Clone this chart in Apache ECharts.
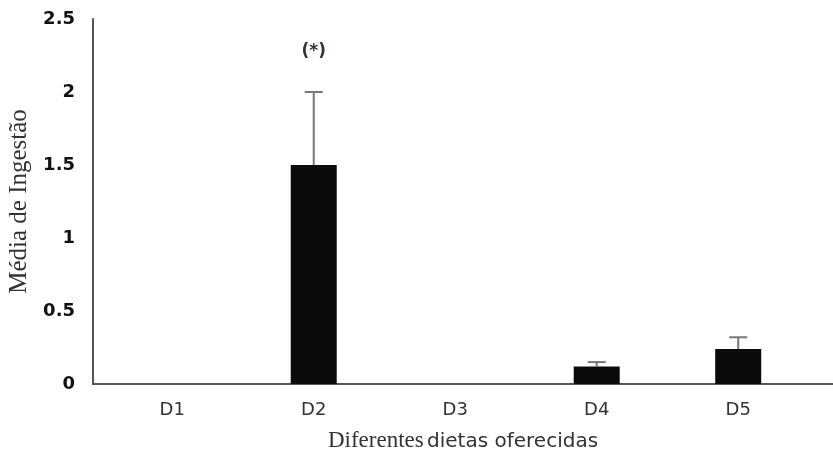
<!DOCTYPE html>
<html>
<head>
<meta charset="utf-8">
<script src="https://cdn.jsdelivr.net/npm/echarts@6/dist/echarts.min.js"></script>
<style>
html,body{margin:0;padding:0;background:#fff;}
#chart{width:833px;height:453px;}
</style>
</head>
<body>
<div id="chart"></div>
<script>
// Diet categories and mean intake with upper standard error
const categories = ['D1', 'D2', 'D3', 'D4', 'D5'];
const means = [0, 1.5, 0, 0.12, 0.24];
const errors = [0, 0.5, 0, 0.03, 0.08];
const notes = ['', '(*)', '', '', ''];
const yTicks = [0, 0.5, 1, 1.5, 2, 2.5];

const positions = categories.map((c, i) => i + 1);
const barData = positions.map((p, i) => [p, means[i]]);
const errData = positions.map((p, i) => [p, means[i], errors[i], i]);

const chart = echarts.init(document.getElementById('chart'));
chart.setOption({
  animation: false,
  backgroundColor: '#fff',
  grid: { left: 93, right: 0, top: 19, bottom: 69, containLabel: false, outerBoundsMode: 'none' },
  xAxis: {
    type: 'value',
    min: 0.44,
    max: 5.67,
    splitLine: { show: false },
    axisLine: { show: true, onZero: false, lineStyle: { color: '#555', width: 2 } },
    axisTick: { show: false },
    axisLabel: {
      customValues: positions,
      formatter: v => categories[Math.round(v) - 1] || '',
      color: '#333',
      fontFamily: 'DejaVu Sans, sans-serif',
      fontSize: 18,
      margin: 17
    },
    name: '{a|Diferentes} {b|dietas oferecidas}',
    nameLocation: 'middle',
    nameGap: 45,
    nameTextStyle: {
      rich: {
        a: { fontFamily: 'Liberation Serif, Times New Roman, serif', fontSize: 23, color: '#333', verticalAlign: 'bottom' },
        b: { fontFamily: 'DejaVu Sans, sans-serif', fontSize: 20, color: '#333', verticalAlign: 'bottom' }
      }
    }
  },
  yAxis: {
    type: 'value',
    min: yTicks[0],
    max: yTicks[yTicks.length - 1],
    interval: 0.5,
    splitLine: { show: false },
    axisLine: { show: true, lineStyle: { color: '#555', width: 2 } },
    axisTick: { show: false },
    axisLabel: {
      color: '#111',
      fontFamily: 'DejaVu Sans, sans-serif',
      fontWeight: 'bold',
      fontSize: 18,
      margin: 18
    },
    name: 'Média de Ingestão',
    nameLocation: 'middle',
    nameGap: 58,
    nameTextStyle: {
      fontFamily: 'Liberation Serif, Times New Roman, serif',
      fontSize: 25,
      color: '#333'
    }
  },
  series: [
    {
      type: 'bar',
      data: barData,
      barWidth: 46,
      itemStyle: { color: '#0a0a0a' },
      z: 2
    },
    {
      type: 'custom',
      data: errData,
      z: 3,
      renderItem: function (params, api) {
        const x = api.value(0);
        const m = api.value(1);
        const e = api.value(2);
        const idx = api.value(3);
        const children = [];
        const style = { stroke: '#777', lineWidth: 2 };
        const topPt = api.coord([x, m + e]);
        if (e > 0) {
          const base = api.coord([x, m]);
          children.push({ type: 'line', shape: { x1: base[0], y1: base[1], x2: topPt[0], y2: topPt[1] }, style: style });
          children.push({ type: 'line', shape: { x1: topPt[0] - 9, y1: topPt[1], x2: topPt[0] + 9, y2: topPt[1] }, style: style });
        }
        if (notes[idx]) {
          children.push({
            type: 'text',
            style: {
              text: notes[idx],
              x: topPt[0],
              y: topPt[1] - 40,
              align: 'center',
              verticalAlign: 'middle',
              fill: '#3a3040',
              font: 'bold 17px DejaVu Sans, sans-serif'
            }
          });
        }
        return { type: 'group', children: children };
      }
    }
  ]
});
</script>
</body>
</html>
